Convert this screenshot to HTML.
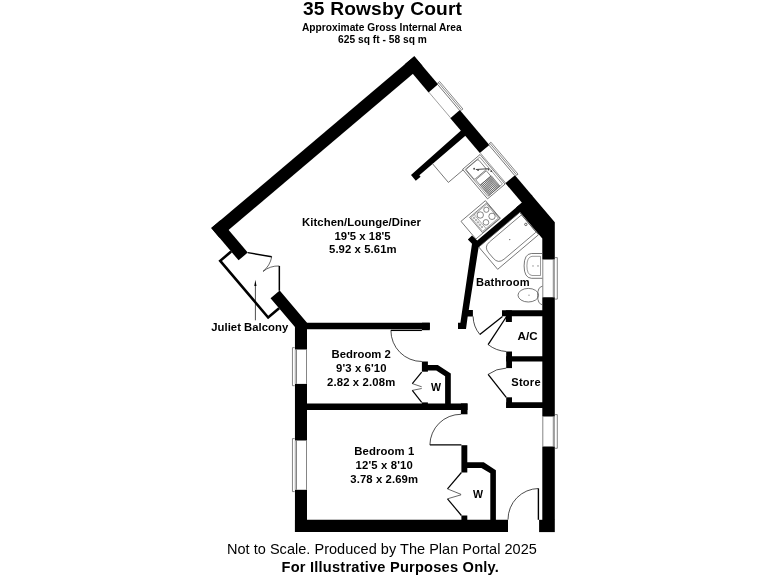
<!DOCTYPE html>
<html><head><meta charset="utf-8"><style>
html,body{margin:0;padding:0;background:#fff;width:768px;height:576px;overflow:hidden}
svg{display:block;will-change:transform}
text{font-family:"Liberation Sans",sans-serif;fill:#000}
</style></head><body>
<svg width="768" height="576" viewBox="0 0 768 576">
<rect width="768" height="576" fill="#fff"/>
<g fill="#000">
<polygon points="414.30,56.25 422.44,65.87 219.39,237.70 211.25,228.08"/>
<polygon points="414.30,56.25 438.07,84.34 428.53,92.42 404.76,64.32"/>
<polygon points="459.84,110.07 489.36,144.95 479.82,153.03 450.30,118.14"/>
<polygon points="514.95,175.18 532.52,195.94 522.97,204.02 505.40,183.25"/>
<polygon points="531.42,194.64 554.80,222.27 554.80,222.27 554.80,259.50 542.30,259.50 542.30,238.46 516.15,207.56"/>
<polygon points="220.41,220.33 247.74,252.62 238.58,260.37 211.25,228.08"/>
<polygon points="279.71,290.41 270.55,298.16 294.95,326.99 294.95,349.55 307.00,349.55 307.00,322.65"/>
<polygon points="294.95,383.90 307.00,383.90 307.00,440.50 294.95,440.50"/>
<polygon points="294.95,489.80 307.00,489.80 307.00,532.00 294.95,532.00"/>
<polygon points="306.00,322.75 429.80,322.75 429.80,329.30 306.00,329.30"/>
<polygon points="421.90,322.75 429.80,322.75 429.80,330.20 421.90,330.20"/>
<polygon points="306.00,403.40 467.50,403.40 467.50,409.90 306.00,409.90"/>
<polygon points="460.90,403.40 467.50,403.40 467.50,414.30 460.90,414.30"/>
<polygon points="294.95,519.80 508.00,519.80 508.00,532.10 294.95,532.10"/>
<polygon points="542.30,297.30 554.80,297.30 554.80,416.50 542.30,416.50"/>
<polygon points="542.30,446.50 554.80,446.50 554.80,520.00 542.30,520.00"/>
<polygon points="539.10,519.80 554.80,519.80 554.80,532.10 539.10,532.10"/>
<polygon points="502.00,310.30 543.30,310.30 543.30,316.20 502.00,316.20"/>
<polygon points="505.80,310.30 511.90,310.30 511.90,322.00 505.80,322.00"/>
<polygon points="506.20,356.20 543.30,356.20 543.30,361.50 506.20,361.50"/>
<polygon points="506.20,351.50 512.00,351.50 512.00,368.10 506.20,368.10"/>
<polygon points="506.20,402.30 543.30,402.30 543.30,408.00 506.20,408.00"/>
<polygon points="506.20,397.30 512.00,397.30 512.00,408.00 506.20,408.00"/>
<polygon points="421.90,361.50 427.90,361.50 427.90,371.70 421.90,371.70"/>
<polygon points="427.00,364.90 437.80,364.90 450.80,373.50 450.80,404.00 445.10,404.00 445.10,376.35 436.25,370.60 427.00,370.60"/>
<polygon points="421.90,402.40 427.90,402.40 427.90,404.00 421.90,404.00"/>
<polygon points="461.40,445.20 467.30,445.20 467.30,472.50 461.40,472.50"/>
<polygon points="467.00,462.30 483.75,462.30 495.90,470.20 495.90,520.00 490.30,520.00 490.30,473.30 481.40,468.10 467.00,468.10"/>
<polygon points="461.40,515.50 467.30,515.50 467.30,520.00 461.40,520.00"/>
<polygon points="462.74,128.97 467.13,134.16 419.36,175.24 420.59,176.69 415.78,180.76 411.00,175.11"/>
<polygon points="467.85,239.60 472.00,235.40 477.20,240.60 523.78,201.10 527.66,205.68 520.03,212.14 478.60,247.20 468.75,309.90 472.90,309.90 472.90,316.50 467.70,316.50 466.00,329.00 458.00,329.00 458.00,322.80 460.40,322.80 472.00,243.75"/>
</g>
<g>
<line x1="437.77" y1="84.60" x2="459.54" y2="110.32" stroke="#555" stroke-width="0.8"/>
<line x1="428.84" y1="92.16" x2="450.61" y2="117.88" stroke="#777" stroke-width="0.7"/>
<polyline points="437.52,84.15 438.37,82.52 461.23,109.54 460.39,111.18" fill="none" stroke="#555" stroke-width="0.7"/>
<polyline points="438.37,82.52 439.59,81.49 462.91,109.04 461.69,110.08" fill="none" stroke="#555" stroke-width="0.7"/>
<line x1="489.06" y1="145.21" x2="514.64" y2="175.44" stroke="#555" stroke-width="0.8"/>
<line x1="480.13" y1="152.77" x2="505.71" y2="183.00" stroke="#777" stroke-width="0.7"/>
<polyline points="488.81,144.76 489.66,143.13 516.34,174.66 515.49,176.29" fill="none" stroke="#555" stroke-width="0.7"/>
<polyline points="489.66,143.13 490.88,142.10 518.01,174.16 516.79,175.19" fill="none" stroke="#555" stroke-width="0.7"/>
<line x1="306.50" y1="349.55" x2="306.50" y2="383.90" stroke="#666" stroke-width="0.8"/>
<line x1="296.50" y1="349.55" x2="296.50" y2="383.90" stroke="#666" stroke-width="0.8"/>
<polyline points="294.65,347.65 292.45,347.65 292.45,385.70 294.65,385.70" fill="none" stroke="#666" stroke-width="0.8"/>
<line x1="295.25" y1="349.55" x2="295.25" y2="383.90" stroke="#666" stroke-width="0.6"/>
<line x1="306.50" y1="440.50" x2="306.50" y2="489.80" stroke="#666" stroke-width="0.8"/>
<line x1="296.50" y1="440.50" x2="296.50" y2="489.80" stroke="#666" stroke-width="0.8"/>
<polyline points="294.65,438.60 292.45,438.60 292.45,491.60 294.65,491.60" fill="none" stroke="#666" stroke-width="0.8"/>
<line x1="295.25" y1="440.50" x2="295.25" y2="489.80" stroke="#666" stroke-width="0.6"/>
<line x1="542.80" y1="259.50" x2="542.80" y2="297.30" stroke="#666" stroke-width="0.8"/>
<line x1="553.30" y1="259.50" x2="553.30" y2="297.30" stroke="#666" stroke-width="0.8"/>
<polyline points="555.10,257.60 557.30,257.60 557.30,299.10 555.10,299.10" fill="none" stroke="#666" stroke-width="0.8"/>
<line x1="554.50" y1="259.50" x2="554.50" y2="297.30" stroke="#666" stroke-width="0.6"/>
<line x1="542.80" y1="416.50" x2="542.80" y2="446.50" stroke="#666" stroke-width="0.8"/>
<line x1="553.30" y1="416.50" x2="553.30" y2="446.50" stroke="#666" stroke-width="0.8"/>
<polyline points="555.10,414.60 557.30,414.60 557.30,448.30 555.10,448.30" fill="none" stroke="#666" stroke-width="0.8"/>
<line x1="554.50" y1="416.50" x2="554.50" y2="446.50" stroke="#666" stroke-width="0.6"/>
<polyline points="231.15,251.59 220.23,260.83 268.16,317.47 279.08,308.23" fill="none" stroke="#000" stroke-width="2.6"/>
<line x1="247.74" y1="252.62" x2="271.72" y2="256.82" stroke="#000" stroke-width="1.5"/>
<path d="M271.72 256.82 A24.50 24.50 0 0 1 262.99 271.42" fill="none" stroke="#000" stroke-width="0.6"/>
<line x1="279.33" y1="290.73" x2="279.33" y2="265.97" stroke="#000" stroke-width="1.5"/>
<path d="M279.33 265.97 A24.50 24.50 0 0 0 262.99 271.42" fill="none" stroke="#000" stroke-width="0.6"/>
<line x1="255.40" y1="285.00" x2="255.40" y2="320.30" stroke="#000" stroke-width="0.7"/>
<polygon points="255.4,279.8 254.3,286 256.5,286" fill="#000"/>
<line x1="390.90" y1="330.40" x2="421.90" y2="330.40" stroke="#000" stroke-width="1.3"/>
<path d="M390.90 330.40 A31.00 31.00 0 0 0 421.90 361.50" fill="none" stroke="#000" stroke-width="0.7"/>
<line x1="429.90" y1="444.90" x2="461.40" y2="444.90" stroke="#000" stroke-width="1.3"/>
<path d="M461.00 414.30 A31.00 31.00 0 0 0 429.90 444.90" fill="none" stroke="#000" stroke-width="0.7"/>
<line x1="538.40" y1="488.50" x2="538.40" y2="519.80" stroke="#000" stroke-width="1.4"/>
<path d="M538.60 488.50 A31.00 31.00 0 0 0 508.00 519.60" fill="none" stroke="#000" stroke-width="0.7"/>
<line x1="506.25" y1="317.00" x2="488.10" y2="344.60" stroke="#000" stroke-width="1.3"/>
<path d="M488.10 344.60 A33.00 33.00 0 0 0 506.25 351.50" fill="none" stroke="#000" stroke-width="0.7"/>
<line x1="506.25" y1="397.30" x2="488.10" y2="374.40" stroke="#000" stroke-width="1.3"/>
<path d="M488.10 374.40 A33.00 33.00 0 0 1 506.25 368.10" fill="none" stroke="#000" stroke-width="0.7"/>
<line x1="502.50" y1="316.40" x2="479.80" y2="334.40" stroke="#000" stroke-width="1.3"/>
<path d="M473.10 316.40 A29.00 29.00 0 0 0 479.80 334.40" fill="none" stroke="#000" stroke-width="0.7"/>
<polyline points="421.70,372.20 412.30,383.60" fill="none" stroke="#000" stroke-width="1.2"/>
<polyline points="412.30,383.60 421.70,386.80" fill="none" stroke="#000" stroke-width="0.6"/>
<polyline points="421.70,388.50 412.30,390.40" fill="none" stroke="#000" stroke-width="0.6"/>
<polyline points="412.30,390.40 421.70,402.40" fill="none" stroke="#000" stroke-width="1.2"/>
<polyline points="461.40,472.50 447.50,488.90" fill="none" stroke="#000" stroke-width="1.2"/>
<polyline points="447.50,488.90 461.10,494.40" fill="none" stroke="#000" stroke-width="0.6"/>
<polyline points="461.10,494.80 447.50,498.80" fill="none" stroke="#000" stroke-width="0.6"/>
<polyline points="447.50,498.80 461.40,515.50" fill="none" stroke="#000" stroke-width="1.2"/>
<polyline points="432.40,163.55 448.36,182.41 463.24,169.81" fill="none" stroke="#555" stroke-width="0.8"/>
<polygon points="480.05,154.53 505.05,184.08 487.57,198.87 462.57,169.33" fill="none" stroke="#555" stroke-width="0.8"/>
<polygon points="479.76,157.14 502.44,183.93 487.78,196.33 465.11,169.54" fill="none" stroke="#555" stroke-width="0.6"/>
<g transform="translate(476.23 169.37) rotate(49.76)"><rect x="-6.65" y="-8" width="13.3" height="16" rx="1.5" fill="none" stroke="#555" stroke-width="0.7"/></g>
<polygon points="486.36,170.81 490.88,176.16 480.19,185.20 475.67,179.86" fill="none" stroke="#555" stroke-width="0.7"/>
<polygon points="491.26,175.83 499.98,186.14 488.92,195.50 480.19,185.20" fill="none" stroke="#555" stroke-width="0.7"/>
<line x1="492.23" y1="176.98" x2="481.16" y2="186.34" stroke="#444" stroke-width="0.6"/>
<line x1="493.20" y1="178.12" x2="482.13" y2="187.49" stroke="#444" stroke-width="0.6"/>
<line x1="494.17" y1="179.27" x2="483.10" y2="188.63" stroke="#444" stroke-width="0.6"/>
<line x1="495.14" y1="180.41" x2="484.07" y2="189.78" stroke="#444" stroke-width="0.6"/>
<line x1="496.11" y1="181.56" x2="485.04" y2="190.92" stroke="#444" stroke-width="0.6"/>
<line x1="497.08" y1="182.70" x2="486.01" y2="192.07" stroke="#444" stroke-width="0.6"/>
<line x1="498.05" y1="183.85" x2="486.98" y2="193.21" stroke="#444" stroke-width="0.6"/>
<line x1="499.01" y1="184.99" x2="487.95" y2="194.36" stroke="#444" stroke-width="0.6"/>
<line x1="490.16" y1="176.77" x2="498.88" y2="187.07" stroke="#444" stroke-width="0.6"/>
<line x1="489.05" y1="177.71" x2="497.77" y2="188.01" stroke="#444" stroke-width="0.6"/>
<line x1="487.94" y1="178.64" x2="496.66" y2="188.95" stroke="#444" stroke-width="0.6"/>
<line x1="486.84" y1="179.58" x2="495.56" y2="189.88" stroke="#444" stroke-width="0.6"/>
<line x1="485.73" y1="180.52" x2="494.45" y2="190.82" stroke="#444" stroke-width="0.6"/>
<line x1="484.62" y1="181.45" x2="493.34" y2="191.76" stroke="#444" stroke-width="0.6"/>
<line x1="483.51" y1="182.39" x2="492.24" y2="192.69" stroke="#444" stroke-width="0.6"/>
<line x1="482.41" y1="183.33" x2="491.13" y2="193.63" stroke="#444" stroke-width="0.6"/>
<line x1="481.30" y1="184.26" x2="490.02" y2="194.57" stroke="#444" stroke-width="0.6"/>
<line x1="475.82" y1="169.51" x2="488.88" y2="168.68" stroke="#333" stroke-width="0.9"/>
<circle cx="474.12" cy="168.73" r="0.9" fill="#444"/>
<circle cx="478.06" cy="169.98" r="0.9" fill="#444"/>
<circle cx="488.59" cy="169.58" r="0.9" fill="#444"/>
<circle cx="491.29" cy="171.22" r="0.9" fill="#444"/>
<polygon points="485.43,200.68 500.36,218.31 475.93,238.98 461.01,221.35" fill="none" stroke="#555" stroke-width="0.8"/>
<polygon points="486.67,202.91 499.65,218.25 482.55,232.72 469.57,217.38" fill="none" stroke="#555" stroke-width="0.7"/>
<polygon points="486.55,204.32 498.24,218.14 482.67,231.31 470.98,217.50" fill="none" stroke="#555" stroke-width="0.5"/>
<line x1="474.34" y1="214.65" x2="486.03" y2="228.47" stroke="#555" stroke-width="0.5"/>
<circle cx="486.31" cy="209.76" r="2.60" fill="none" stroke="#555" stroke-width="0.7"/>
<circle cx="480.27" cy="215.01" r="3.20" fill="none" stroke="#555" stroke-width="0.7"/>
<circle cx="492.01" cy="216.34" r="3.20" fill="none" stroke="#555" stroke-width="0.7"/>
<circle cx="485.97" cy="222.36" r="2.80" fill="none" stroke="#555" stroke-width="0.7"/>
<circle cx="474.14" cy="217.83" r="0.8" fill="none" stroke="#555" stroke-width="0.5"/>
<circle cx="476.08" cy="220.12" r="0.8" fill="none" stroke="#555" stroke-width="0.5"/>
<circle cx="478.02" cy="222.41" r="0.8" fill="none" stroke="#555" stroke-width="0.5"/>
<circle cx="479.96" cy="224.70" r="0.8" fill="none" stroke="#555" stroke-width="0.5"/>
<circle cx="481.89" cy="226.99" r="0.8" fill="none" stroke="#555" stroke-width="0.5"/>
<polygon points="519.65,212.47 538.51,234.76 497.67,269.32 478.81,247.03" fill="none" stroke="#555" stroke-width="0.8"/>
<g transform="translate(509.72 239.60) rotate(139.76)"><path d="M-24.6 -11.3 L17 -11.3 Q24.6 -11.3 24.6 -3.5 L24.6 3.5 Q24.6 11.3 17 11.3 L-24.6 11.3 Q-25 11.3 -25 9 L-25 -9 Q-25 -11.3 -24.6 -11.3 Z" fill="none" stroke="#555" stroke-width="0.7"/></g>
<circle cx="509.72" cy="239.60" r="0.7" fill="#666"/>
<circle cx="525.82" cy="224.41" r="1.2" fill="none" stroke="#444" stroke-width="0.8"/>
<path d="M542.4 253.5 L531.4 253.5 Q524.1 254 524.1 265.9 Q524.1 277.8 531.4 278.3 L542.4 278.3" fill="none" stroke="#555" stroke-width="0.8"/>
<path d="M540.5 256.3 L532 256.3 Q526.9 257 526.9 265.9 Q526.9 274.8 532 275.5 L540.5 275.5 Z" fill="none" stroke="#555" stroke-width="0.6"/>
<circle cx="533" cy="265.9" r="0.6" fill="#666"/><circle cx="538" cy="265.9" r="0.7" fill="#666"/>
<ellipse cx="528.3" cy="295.2" rx="10.3" ry="6.8" fill="none" stroke="#555" stroke-width="0.8"/>
<path d="M542.4 286.2 Q537.6 287 537.6 295.5 Q537.6 304 542.4 304.8" fill="none" stroke="#555" stroke-width="0.8"/>
<circle cx="529" cy="295.2" r="0.6" fill="#777"/>
</g>
<g>
<text x="303.00" y="14.80" font-size="19.2" font-weight="bold" textLength="158.93" lengthAdjust="spacing">35 Rowsby Court</text>
<text x="302.00" y="30.90" font-size="10.2" font-weight="bold" textLength="159.68" lengthAdjust="spacing">Approximate Gross Internal Area</text>
<text x="338.00" y="43.30" font-size="10.2" font-weight="bold" textLength="88.93" lengthAdjust="spacing">625 sq ft - 58 sq m</text>
<text x="302.00" y="225.60" font-size="11.3" font-weight="bold" textLength="118.97" lengthAdjust="spacing">Kitchen/Lounge/Diner</text>
<text x="334.50" y="239.60" font-size="11.3" font-weight="bold" textLength="56.04" lengthAdjust="spacing">19&#39;5 x 18&#39;5</text>
<text x="329.00" y="253.30" font-size="11.3" font-weight="bold" textLength="67.59" lengthAdjust="spacing">5.92 x 5.61m</text>
<text x="331.50" y="358.10" font-size="11.3" font-weight="bold" textLength="59.42" lengthAdjust="spacing">Bedroom 2</text>
<text x="336.00" y="372.30" font-size="11.3" font-weight="bold" textLength="50.56" lengthAdjust="spacing">9&#39;3 x 6&#39;10</text>
<text x="327.00" y="386.00" font-size="11.3" font-weight="bold" textLength="68.19" lengthAdjust="spacing">2.82 x 2.08m</text>
<text x="354.25" y="455.05" font-size="11.3" font-weight="bold" textLength="60.02" lengthAdjust="spacing">Bedroom 1</text>
<text x="355.50" y="468.60" font-size="11.3" font-weight="bold" textLength="57.24" lengthAdjust="spacing">12&#39;5 x 8&#39;10</text>
<text x="350.25" y="482.80" font-size="11.3" font-weight="bold" textLength="67.79" lengthAdjust="spacing">3.78 x 2.69m</text>
<text x="476.00" y="285.70" font-size="11.1" font-weight="bold" textLength="53.59" lengthAdjust="spacing">Bathroom</text>
<text x="211.25" y="331.40" font-size="11.3" font-weight="bold" textLength="76.99" lengthAdjust="spacing">Juliet Balcony</text>
<text x="517.60" y="339.80" font-size="11.6" font-weight="bold" textLength="19.90" lengthAdjust="spacing">A/C</text>
<text x="511.25" y="385.80" font-size="11.1" font-weight="bold" textLength="29.36" lengthAdjust="spacing">Store</text>
<text x="431.00" y="390.90" font-size="10.6" font-weight="bold" textLength="10.40" lengthAdjust="spacing">W</text>
<text x="473.00" y="498.30" font-size="10.6" font-weight="bold" textLength="11.60" lengthAdjust="spacing">W</text>
<text x="227.00" y="554.10" font-size="14.5" textLength="309.85" lengthAdjust="spacing">Not to Scale. Produced by The Plan Portal 2025</text>
<text x="281.50" y="571.80" font-size="14.6" font-weight="bold" textLength="217.39" lengthAdjust="spacing">For Illustrative Purposes Only.</text>
</g>
</svg>
</body></html>
